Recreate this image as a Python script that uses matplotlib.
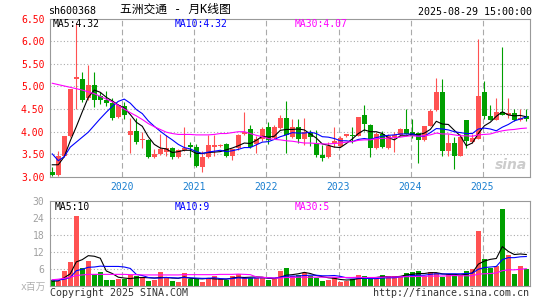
import numpy as np
import pandas as pd
import matplotlib
matplotlib.use('Agg')
import matplotlib.pyplot as plt

plt.rcParams['font.family'] = ['DejaVu Sans Mono', 'Noto Sans CJK SC']

# monthly candles, Jan 2019 .. Aug 2025
months = pd.date_range('2019-01-01', '2025-08-01', freq='MS')

opens = [3.10, 3.04, 3.46, 3.90, 5.17, 5.16, 4.74, 5.04, 4.78, 4.70,
         4.63, 4.32, 4.56, 3.93, 4.01, 3.81, 3.82, 3.45, 3.50, 3.55,
         3.63, 3.44, 3.59, 3.70, 3.66, 3.22, 3.44, 3.66, 3.68, 3.72,
         3.47, 3.63, 3.96, 4.06, 3.72, 3.85, 4.11, 3.87, 4.09, 4.31,
         3.88, 4.10, 3.84, 3.98, 3.76, 3.49, 3.45, 3.76, 3.69, 3.90,
         3.93, 3.91, 4.37, 4.15, 3.63, 3.96, 3.65, 3.88, 3.93, 4.06,
         4.00, 3.98, 3.82, 4.13, 4.47, 4.87, 3.57, 3.76, 3.47, 4.25,
         3.78, 3.85, 4.87, 4.35, 4.26, 4.43, 4.36, 4.42, 4.25, 4.34]
highs = [3.22, 3.57, 3.90, 4.95, 6.41, 5.32, 5.47, 5.31, 4.88, 4.90,
         4.74, 4.62, 4.66, 4.31, 4.31, 4.00, 3.84, 3.62, 3.96, 3.93,
         3.66, 3.62, 4.11, 3.78, 3.72, 3.57, 3.93, 3.93, 3.73, 3.76,
         3.62, 3.96, 4.44, 4.15, 3.90, 4.11, 4.22, 4.14, 4.37, 4.68,
         4.29, 4.29, 4.31, 4.04, 4.03, 3.71, 3.78, 4.11, 3.91, 3.96,
         4.11, 4.32, 4.60, 4.16, 4.00, 4.01, 3.94, 4.00, 4.09, 4.50,
         4.28, 4.00, 4.13, 4.50, 5.18, 5.16, 3.96, 3.88, 3.96, 4.25,
         3.96, 6.04, 5.13, 4.59, 4.75, 5.88, 4.74, 4.50, 4.51, 4.50]
lows = [3.02, 3.03, 3.44, 3.88, 4.50, 4.66, 4.70, 4.55, 4.62, 4.57,
        4.26, 4.30, 4.29, 3.52, 3.72, 3.63, 3.41, 3.42, 3.48, 3.47,
        3.40, 3.42, 3.58, 3.45, 3.21, 3.10, 3.43, 3.47, 3.66, 3.44,
        3.38, 3.60, 3.93, 3.63, 3.52, 3.80, 3.72, 3.84, 4.05, 3.54,
        3.86, 3.76, 3.71, 3.69, 3.45, 3.35, 3.43, 3.67, 3.66, 3.88,
        3.76, 3.90, 4.01, 3.44, 3.62, 3.65, 3.62, 3.56, 3.91, 3.95,
        3.87, 3.31, 3.80, 4.12, 4.46, 3.46, 3.46, 3.18, 3.46, 3.63,
        3.76, 3.84, 4.29, 4.25, 4.25, 4.37, 4.30, 4.24, 4.24, 4.24]
closes = [3.04, 3.46, 3.90, 4.94, 5.20, 4.70, 5.04, 4.70, 4.71, 4.63,
          4.31, 4.59, 4.38, 4.01, 3.78, 3.84, 3.45, 3.50, 3.62, 3.64,
          3.44, 3.59, 3.65, 3.66, 3.25, 3.44, 3.70, 3.70, 3.71, 3.47,
          3.62, 3.93, 4.00, 3.67, 3.85, 4.07, 3.82, 4.11, 4.31, 3.93,
          4.10, 3.85, 4.00, 3.88, 3.49, 3.43, 3.69, 3.79, 3.87, 3.94,
          3.90, 4.32, 4.18, 3.65, 3.96, 3.67, 3.91, 3.93, 4.06, 3.96,
          3.90, 3.81, 4.12, 4.46, 4.87, 3.57, 3.76, 3.47, 3.88, 3.79,
          3.87, 4.78, 4.35, 4.26, 4.43, 4.38, 4.42, 4.25, 4.30, 4.29]

ma5 = [3.27, 3.27, 3.45, 3.80, 4.11, 4.44, 4.76, 4.92, 4.87, 4.76,
       4.68, 4.59, 4.52, 4.38, 4.21, 4.12, 3.89, 3.72, 3.64, 3.62,
       3.54, 3.56, 3.59, 3.59, 3.52, 3.52, 3.54, 3.55, 3.56, 3.60,
       3.64, 3.69, 3.75, 3.74, 3.81, 3.90, 3.88, 3.90, 4.03, 4.05,
       4.05, 4.06, 4.04, 3.95, 3.86, 3.73, 3.70, 3.66, 3.65, 3.74,
       3.84, 3.96, 4.04, 4.00, 4.00, 3.96, 3.87, 3.82, 3.91, 3.91,
       3.95, 3.93, 3.97, 4.05, 4.23, 4.17, 4.16, 4.03, 3.91, 3.69,
       3.75, 3.96, 4.13, 4.21, 4.34, 4.44, 4.37, 4.35, 4.36, 4.33]
ma10 = [3.51, 3.36, 3.45, 3.66, 3.77, 3.88, 3.99, 4.14, 4.29, 4.43,
        4.56, 4.67, 4.72, 4.63, 4.49, 4.40, 4.24, 4.12, 4.01, 3.91,
        3.82, 3.72, 3.65, 3.62, 3.56, 3.52, 3.55, 3.57, 3.59, 3.56,
        3.58, 3.61, 3.65, 3.65, 3.71, 3.77, 3.78, 3.83, 3.89, 3.93,
        3.98, 3.97, 3.97, 3.99, 3.96, 3.89, 3.88, 3.85, 3.80, 3.80,
        3.78, 3.83, 3.85, 3.83, 3.87, 3.90, 3.92, 3.93, 3.95, 3.95,
        3.95, 3.90, 3.90, 3.98, 4.07, 4.06, 4.04, 4.00, 3.98, 3.96,
        3.96, 4.06, 4.08, 4.06, 4.02, 4.10, 4.16, 4.24, 4.28, 4.33]
ma30 = [5.07, 5.04, 5.01, 4.98, 4.95, 4.92, 4.88, 4.84, 4.78, 4.72,
        4.66, 4.58, 4.50, 4.42, 4.35, 4.27, 4.18, 4.11, 4.05, 3.99,
        3.96, 3.94, 3.94, 3.94, 3.93, 3.93, 3.93, 3.94, 3.96, 3.96,
        3.98, 4.00, 4.00, 3.96, 3.92, 3.89, 3.85, 3.83, 3.82, 3.80,
        3.79, 3.77, 3.75, 3.75, 3.74, 3.73, 3.73, 3.74, 3.75, 3.77,
        3.78, 3.81, 3.82, 3.82, 3.85, 3.85, 3.86, 3.87, 3.88, 3.90,
        3.91, 3.90, 3.91, 3.93, 3.97, 3.95, 3.95, 3.93, 3.91, 3.91,
        3.90, 3.93, 3.94, 3.95, 3.99, 4.02, 4.04, 4.05, 4.07, 4.08]

# volume, millions of shares
volumes = [2.0, 1.8, 5.2, 8.3, 24.6, 6.3, 8.7, 4.0, 4.8, 2.0,
           2.0, 2.4, 2.4, 3.8, 3.5, 2.6, 1.7, 2.0, 4.9, 3.2,
           1.7, 1.3, 4.6, 2.4, 2.3, 1.4, 2.3, 3.4, 2.3, 2.0,
           3.4, 4.0, 2.8, 2.8, 2.6, 2.8, 2.0, 2.3, 5.2, 6.4,
           3.5, 3.8, 4.4, 3.5, 2.6, 1.7, 2.0, 3.2, 1.4, 1.7,
           2.4, 3.8, 3.5, 2.4, 2.4, 3.8, 3.5, 3.5, 3.5, 4.5,
           5.0, 5.2, 3.5, 4.7, 4.4, 3.2, 4.0, 3.8, 3.8, 5.2,
           5.9, 19.4, 9.4, 6.4, 6.8, 27.1, 10.8, 4.1, 7.0, 5.8]
vol_ma5 = [1.6, 1.7, 2.8, 4.2, 8.4, 9.2, 10.6, 10.4, 9.7, 5.2,
           4.3, 3.0, 2.7, 2.5, 2.8, 2.9, 2.8, 2.7, 2.9, 2.9,
           2.7, 2.6, 3.1, 2.6, 2.5, 2.4, 2.6, 2.4, 2.3, 2.3,
           2.7, 3.0, 2.9, 3.0, 3.1, 3.0, 2.6, 2.5, 3.0, 3.7,
           3.9, 4.2, 4.7, 4.3, 3.6, 3.2, 2.8, 2.6, 2.2, 2.0,
           2.1, 2.5, 2.6, 2.8, 2.9, 3.2, 3.1, 3.1, 3.3, 3.8,
           4.0, 4.3, 4.3, 4.6, 4.6, 4.2, 4.0, 4.0, 3.8, 4.0,
           4.5, 7.6, 8.7, 9.3, 9.6, 13.8, 12.1, 11.0, 11.2, 11.0]
vol_ma10 = [2.0, 2.0, 2.3, 2.9, 5.3, 5.8, 6.5, 6.6, 6.9, 6.8,
            6.8, 6.8, 6.6, 6.1, 4.0, 3.6, 2.9, 2.7, 2.7, 2.9,
            2.8, 2.7, 2.9, 2.8, 2.7, 2.6, 2.6, 2.8, 2.5, 2.4,
            2.5, 2.8, 2.6, 2.7, 2.7, 2.8, 2.8, 2.7, 3.0, 3.4,
            3.4, 3.4, 3.6, 3.7, 3.7, 3.5, 3.5, 3.6, 3.3, 2.8,
            2.7, 2.7, 2.6, 2.5, 2.5, 2.7, 2.8, 2.8, 3.1, 3.3,
            3.6, 3.7, 3.7, 4.0, 4.2, 4.1, 4.2, 4.2, 4.2, 4.3,
            4.4, 5.8, 6.4, 6.6, 6.8, 9.2, 9.9, 9.9, 10.2, 10.3]
vol_ma30 = [2.1, 2.3, 2.6, 3.0, 3.6, 3.8, 4.0, 4.0, 4.0, 4.0,
            4.0, 4.0, 4.0, 3.9, 3.9, 3.8, 3.8, 3.8, 3.8, 3.8,
            3.8, 3.8, 3.9, 3.9, 3.9, 3.9, 3.9, 3.9, 4.0, 4.0,
            4.0, 4.1, 4.0, 3.9, 3.1, 3.0, 2.8, 2.7, 2.7, 2.9,
            2.9, 3.0, 3.0, 3.0, 3.0, 3.0, 3.0, 3.0, 2.9, 2.9,
            2.9, 3.0, 2.9, 2.9, 2.9, 3.0, 3.1, 3.1, 3.1, 3.2,
            3.2, 3.3, 3.3, 3.4, 3.4, 3.4, 3.5, 3.6, 3.5, 3.5,
            3.5, 4.1, 4.2, 4.3, 4.5, 5.3, 5.6, 5.6, 5.8, 6.0]

price_ticks = [3.0, 3.5, 4.0, 4.5, 5.0, 5.5, 6.0, 6.5]
vol_ticks = [6, 12, 18, 24, 30]

# legend texts as printed on the chart
price_labels = ['MA5:4.32', 'MA10:4.32', 'MA30:4.07']
vol_labels = ['MA5:10', 'MA10:9', 'MA30:5']

RED = '#ff5252'
GREEN = '#009f00'
GRID = '#aaaaaa'
YEAR_BLUE = '#1a7fd0'
ma_colors = ['black', '#0000ff', '#ff00ff']

x = np.arange(len(closes))
o = np.array(opens)
c = np.array(closes)
colors = np.where(c >= o, RED, GREEN)
years = [m.year for m in months]
jan = [i for i, m in enumerate(months) if m.month == 1 and i > 0]
year_pos = [i - 0.3 for i in jan]

fig = plt.figure(figsize=(5.45, 3.0), dpi=100)
ax = fig.add_axes([50 / 545, 123 / 300, 479.5 / 545, 158.5 / 300])
axv = fig.add_axes([50 / 545, 14.3 / 300, 479.5 / 545, 85 / 300])

dots = (0, (1, 2))
dashes = (0, (5, 3))
label_x = [0.006, 0.26, 0.511]

# price panel
for p in price_ticks[1:-1]:
    ax.axhline(p, color=GRID, lw=0.8, ls=dots, zorder=0)
for yp in year_pos:
    ax.axvline(yp, color=GRID, lw=0.8, ls=dashes, zorder=0)

ax.vlines(x, lows, highs, colors=colors, lw=0.8, zorder=2)
body_bot = np.minimum(o, c)
body_h = np.maximum(np.abs(c - o), 0.022)
ax.bar(x, body_h, bottom=body_bot, width=0.85, color=colors, zorder=3)

for series, col in zip([ma5, ma10, ma30], ma_colors):
    ax.plot(x, series, color=col, lw=0.8, zorder=4)

ax.set_xlim(-0.38, 79.53)
ax.set_ylim(3.0, 6.5)
ax.set_yticks(price_ticks)
ax.set_yticklabels(['%.2f' % p for p in price_ticks])
ax.tick_params(axis='y', length=0, pad=4, labelsize=7, labelcolor='#ff0000')
ax.set_xticks(year_pos)
ax.set_xticklabels([str(years[i]) for i in jan])
ax.tick_params(axis='x', length=0, pad=3.5, labelsize=7, labelcolor=YEAR_BLUE)
for s in ax.spines.values():
    s.set_color('#999999')
    s.set_linewidth(0.8)

for lx, txt, col in zip(label_x, price_labels, ma_colors):
    ax.text(lx, 0.965, txt, transform=ax.transAxes, va='center',
            fontsize=7, color=col)
ax.text(0.995, 0.03, 'sina', transform=ax.transAxes, ha='right', va='bottom',
        fontsize=10, color='#cccccc', style='italic', weight='bold',
        family='DejaVu Sans', zorder=1)

# volume panel
for v in vol_ticks[:-1]:
    axv.axhline(v, color=GRID, lw=0.8, ls=dots, zorder=0)
for yp in year_pos:
    axv.axvline(yp, color=GRID, lw=0.8, ls=dashes, zorder=0)

axv.bar(x, volumes, width=0.85, color=colors, zorder=2)
for series, col in zip([vol_ma5, vol_ma10, vol_ma30], ma_colors):
    axv.plot(x, series, color=col, lw=0.8, zorder=4)

axv.set_xlim(-0.38, 79.53)
axv.set_ylim(0, 30)
axv.set_yticks(vol_ticks)
axv.set_yticklabels([str(v) for v in vol_ticks])
axv.tick_params(axis='y', length=0, pad=4, labelsize=7, labelcolor='#a0a0a0')
axv.set_xticks([])
for s in axv.spines.values():
    s.set_color('#999999')
    s.set_linewidth(0.8)

label_xv = [0.0104, 0.26, 0.511]
for lx, txt, col in zip(label_xv, vol_labels, ma_colors):
    axv.text(lx, 0.93, txt, transform=axv.transAxes, va='center',
             fontsize=7, color=col)

# header and footer
fig.text(48 / 545, 1 - 11.5 / 300, 'sh600368', fontsize=7.2, va='center', color='black')
fig.text(120 / 545, 1 - 9.6 / 300, '五洲交通 - 月K线图', fontsize=8.5, va='center',
         color='black')
fig.text(532 / 545, 1 - 12 / 300, '2025-08-29 15:00:00', fontsize=7.2, va='center',
         ha='right', color='black')
fig.text(46 / 545, 1 - 287 / 300, 'x百万', fontsize=7, va='center', ha='right',
         color='#b0b0b0')
fig.text(50 / 545, 1 - 293 / 300, 'Copyright 2025 SINA.COM', fontsize=7.2,
         va='center', color='#333333')
fig.text(529.5 / 545, 1 - 293 / 300, 'http://finance.sina.com.cn', fontsize=7.2,
         va='center', ha='right', color='#333333')

fig.savefig('out.png', dpi=100)
